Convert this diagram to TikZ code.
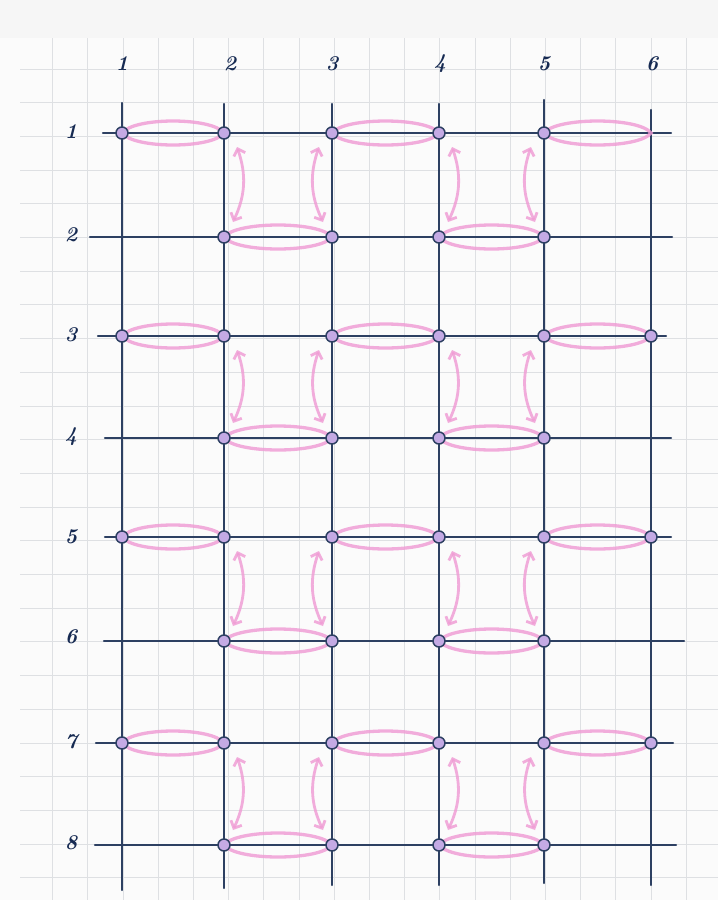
\documentclass[tikz,border=0pt]{standalone}
\usetikzlibrary{arrows.meta,calc}
\definecolor{navy}{RGB}{45,64,98}
\definecolor{labnavy}{RGB}{22,42,82}
\definecolor{pinkl}{RGB}{240,155,212}
\definecolor{gridc}{RGB}{222,224,227}
\definecolor{paper}{RGB}{251,251,251}
\definecolor{topband}{RGB}{246,246,246}
\definecolor{dotfill}{RGB}{196,170,228}
\begin{document}
\begin{tikzpicture}[x=1pt,y=-1pt,
  gridline/.style={gridc, line width=0.9pt},
  mainline/.style={navy, line width=2.1pt, line cap=round},
  lens/.style={pinkl, line width=3.3pt, opacity=0.82},
  swaparrow/.style={pinkl, line width=2.8pt, opacity=0.82, line cap=round,
     {Straight Barb[length=6pt,width=12pt]}-{Straight Barb[length=6pt,width=12pt]}},
  joint/.style={circle, draw=navy, fill=dotfill, line width=1.5pt, minimum size=12pt, inner sep=0pt},
  lab/.style={labnavy, font=\fontsize{21}{21}\selectfont\bfseries\itshape}]
\fill[paper] (0,0) rectangle (718,900);
\fill[topband] (0,0) rectangle (718,38);
\useasboundingbox (0,0) rectangle (718,900);
% graph paper
\foreach \k in {0,...,18} \draw[gridline] ({52.7+35.2*\k},38) -- ({52.7+35.2*\k},900);
\foreach \k in {0,...,24} \draw[gridline] (20,{69+33.7*\k}) -- (718,{69+33.7*\k});
% intersections
\foreach \c/\x in {1/122,2/224,3/332,4/439,5/544,6/651}
  \foreach \r/\y in {1/133,2/237,3/336,4/438,5/537,6/641,7/743,8/845}
    \coordinate (n\r\c) at (\x,\y);
% vertical lines
\foreach \c/\x/\t/\b in {1/122/103/890,2/224/104/888,3/332/104/885,4/439/104/885,5/544/100/883,6/651/110/885}{
  \coordinate (t\c) at (\x,\t);
  \coordinate (b\c) at (\x,\b);
  \draw[mainline] (t\c) -- (b\c);
}
% horizontal lines
\foreach \r/\y/\l/\e in {1/133/103/671,2/237/90/672,3/336/98/666,4/438/105/671,5/537/105/671,6/641/104/684,7/743/96/673,8/845/95/676}{
  \coordinate (l\r) at (\l,\y);
  \coordinate (e\r) at (\e,\y);
  \draw[mainline] (l\r) -- (e\r);
}
% column labels
\foreach \c/\x in {1/122,2/230,3/332,4/440,5/544,6/652}
  \node[lab] (c\c) at (\x,64) {\c};
% row labels
\foreach \r/\y in {1/132,2/235,3/335,4/437,5/537,6/637,7/742,8/843}
  \node[lab] (r\r) at (71,\y) {\r};
% pink lenses
\foreach \r in {1,3,5,7}
  \foreach \a/\b in {1/2,3/4,5/6}
    \draw[lens] (n\r\a) .. controls +(12,-16) and +(-12,-16) .. (n\r\b)
                        .. controls +(-12,16) and +(12,16) .. (n\r\a);
\foreach \r in {2,4,6,8}
  \foreach \a/\b in {2/3,4/5}
    \draw[lens] (n\r\a) .. controls +(12,-16) and +(-12,-16) .. (n\r\b)
                        .. controls +(-12,16) and +(12,16) .. (n\r\a);
% pink double arrows
\foreach \r [evaluate=\r as \s using int(\r+1)] in {1,3,5,7}{
  \foreach \c in {2,4}
    \draw[swaparrow] ($(n\r\c)+(13,14)$) to[bend left=22] ($(n\s\c)+(9,-15)$);
  \foreach \c in {3,5}
    \draw[swaparrow] ($(n\r\c)+(-13,14)$) to[bend right=22] ($(n\s\c)+(-9,-15)$);
}
% joints
\foreach \c in {1,...,5} \node[joint] (d1\c) at (n1\c) {};
\foreach \r in {3,5,7} \foreach \c in {1,...,6} \node[joint] (d\r\c) at (n\r\c) {};
\foreach \r in {2,4,6,8} \foreach \c in {2,...,5} \node[joint] (d\r\c) at (n\r\c) {};
\end{tikzpicture}
\end{document}
